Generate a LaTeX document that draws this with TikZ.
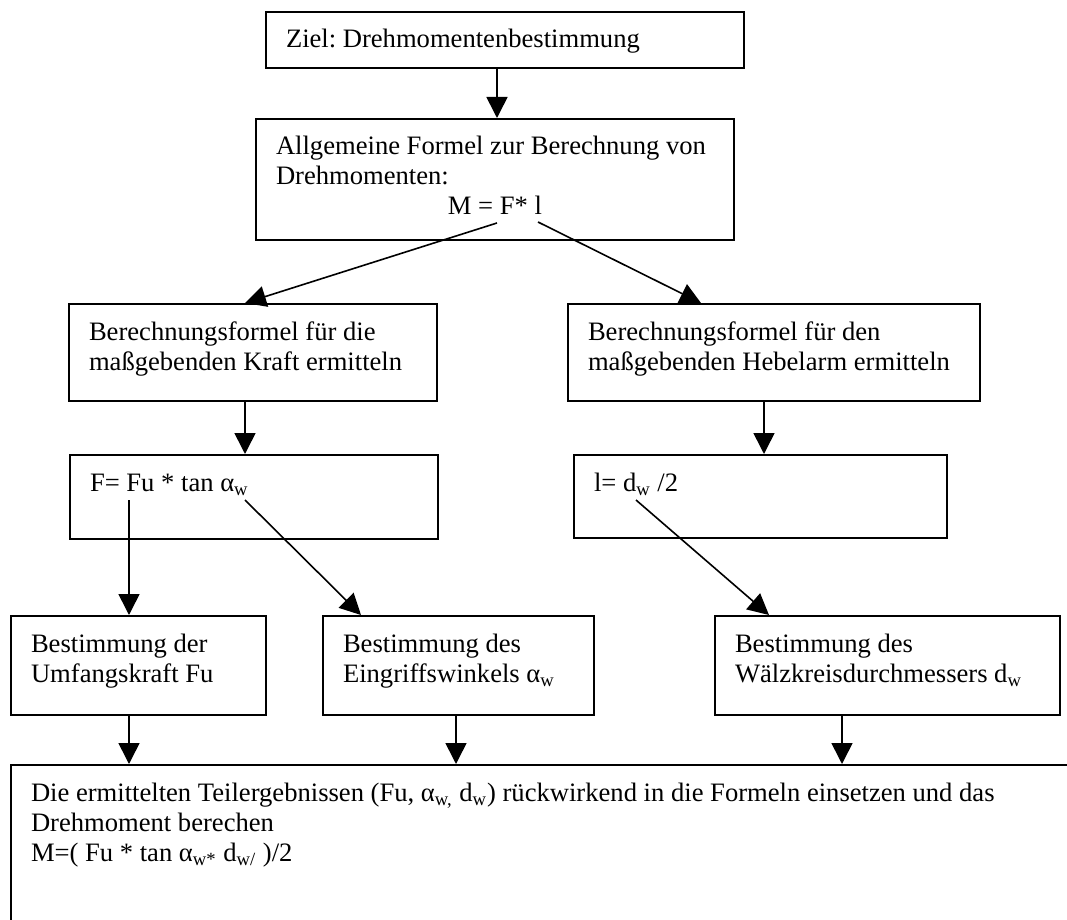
\documentclass[tikz,border=0pt]{standalone}
\usepackage{fontspec}
\setmainfont{Liberation Serif}
\usetikzlibrary{arrows.meta,calc}
\frenchspacing

\newlength{\pxu}
\setlength{\pxu}{0.5pt}
% box body: width and height in px, text at the top left
\newcommand{\boxtext}[3]{\parbox[c][#2\pxu][t]{#1\pxu}{\vspace*{7.5pt}\raggedright\leftskip=10pt\strut #3}}
\newcommand{\low}[1]{\textsubscript{#1}}

\begin{document}
\begin{tikzpicture}[x=0.5pt, y=-0.5pt,
    font=\fontsize{13.3pt}{15pt}\selectfont,
    box/.style={draw, line width=1pt, anchor=north west, inner sep=0pt},
    arr/.style={line width=0.8pt, -{Triangle[length=10.5pt,width=10.5pt]}}]

  \path[use as bounding box] (0,0) rectangle (1067,920);
  \clip (0,0) rectangle (1067,920);
  \fill[white] (0,0) rectangle (1067,920);

  % Boxes
  \node[box] (ziel) at (265,11) {\boxtext{478}{56}{Ziel: Drehmomentenbestimmung}};
  \node[box] (formel) at (255,118) {\boxtext{478}{121}{Allgemeine Formel zur Berechnung von\\Drehmomenten:\par{\centering M = F* l\par}}};
  \node[box] (kraft) at (68,303) {\boxtext{368}{97}{Berechnungsformel für die\\maßgebenden Kraft ermitteln}};
  \node[box] (hebel) at (567,303) {\boxtext{412}{97}{Berechnungsformel für den\\maßgebenden Hebelarm ermitteln}};
  \node[box] (fbox) at (69,454) {\boxtext{368}{84}{F= Fu * tan α\low{w}}};
  \node[box] (lbox) at (573,454) {\boxtext{373}{83}{l= d\low{w} /2}};
  \node[box] (umfang) at (10,615) {\boxtext{255}{99}{Bestimmung der\\Umfangskraft Fu}};
  \node[box] (winkel) at (322,615) {\boxtext{271}{99}{Bestimmung des\\Eingriffswinkels α\low{w}}};
  \node[box] (waelz) at (714,615) {\boxtext{345}{99}{Bestimmung des\\Wälzkreisdurchmessers d\low{w}}};
  \node[box] (ergebnis) at (10,764) {\boxtext{1100}{200}{Die ermittelten Teilergebnissen (Fu, α\low{w,} d\low{w}) rückwirkend in die Formeln einsetzen und das\\Drehmoment berechen\\M=( Fu * tan α\low{w*} d\low{w/} )/2}};

  % Points under the symbols of the formulas
  \coordinate (fstar) at (497,223);
  \coordinate (lstar) at (538,222);
  \coordinate (fu) at (129,500);
  \coordinate (alpha) at (245,500);
  \coordinate (dw) at (636,500);

  % Arrows
  \draw[arr] (ziel.south -| fstar) -- (formel.north -| fstar);
  \draw[arr] (fstar) -- (kraft.north -| alpha);
  \draw[arr] (lstar) -- ($(hebel.north west)+(134,0)$);
  \draw[arr] (kraft.south -| alpha) -- (fbox.north -| alpha);
  \draw[arr] ($(hebel.south west)+(197,0)$) -- ($(lbox.north west)+(191,0)$);
  \draw[arr] (fu) -- (fu |- umfang.north);
  \draw[arr] (alpha) -- ($(winkel.north west)+(39,0)$);
  \draw[arr] (dw) -- ($(waelz.north west)+(55,0)$);

  \foreach \src/\dx in {umfang/119, winkel/134, waelz/128} {
    \coordinate (start) at ($(\src.south west)+(\dx,0)$);
    \draw[arr] (start) -- (start |- ergebnis.north);
  }

\end{tikzpicture}
\end{document}
